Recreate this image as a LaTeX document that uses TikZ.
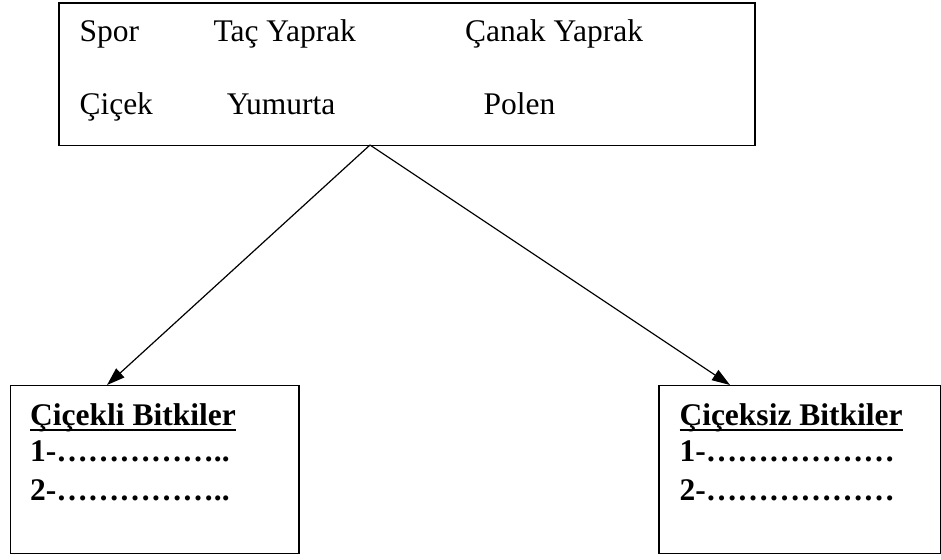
\documentclass[tikz,border=0pt]{standalone}
\usepackage{fontspec}
\setmainfont{Liberation Serif}
\usetikzlibrary{arrows.meta}
\newcommand\ulx[1]{\setbox0\hbox{#1}\rlap{\rule[-0.2em]{\wd0}{0.085em}}\box0}
\begin{document}
\begin{tikzpicture}[x=1pt,y=-1pt,
  box/.style={draw, line width=1.4pt, rectangle, inner sep=0pt, anchor=north west},
  lbl/.style={anchor=base west, inner sep=0pt, font=\fontsize{31.5}{36}\selectfont},
  blbl/.style={anchor=base west, inner sep=0pt, font=\fontsize{31.5}{36}\selectfont\bfseries},
  conn/.style={line width=1.2pt, -{Triangle[length=18pt,width=12pt]}}]
\useasboundingbox (0,0) rectangle (941,559);
\fill[white] (0,0) rectangle (941,559);
% boxes
\node[box, minimum width=696pt, minimum height=142.5pt] (top) at (58.3,2.5) {};
\node[box, minimum width=288.3pt, minimum height=167.7pt] (left) at (10,385) {};
\node[box, minimum width=281.2pt, minimum height=167.7pt] (right) at (658.3,385) {};
% texts in top box
\node[lbl] (t1) at (79.3,41.7) {Spor};
\node[lbl] (t2) at (213.3,41.7) {Taç Yaprak};
\node[lbl] (t3) at (465,41.7) {Çanak Yaprak};
\node[lbl] (t4) at (79.3,114.3) {Çiçek};
\node[lbl] (t5) at (226.7,114.3) {Yumurta};
\node[lbl] (t6) at (483.3,114.3) {Polen};
% left box texts
\node[blbl] (l1) at (30,425) {\ulx{Çiçekli Bitkiler}};
\node[blbl] (l2) at (30,461.7) {1-……………..};
\node[blbl] (l3) at (30,500) {2-……………..};
% right box texts
\node[blbl] (r1) at (679.3,425) {\ulx{Çiçeksiz Bitkiler}};
\node[blbl] (r2) at (679.3,461.7) {1-………………};
\node[blbl] (r3) at (679.3,500) {2-………………};
% connectors
\coordinate (apex) at (370,145);
\coordinate (ltip) at (107,385);
\coordinate (rtip) at (730,385);
\draw[conn] (apex) -- (ltip);
\draw[conn] (apex) -- (rtip);
\end{tikzpicture}
\end{document}
